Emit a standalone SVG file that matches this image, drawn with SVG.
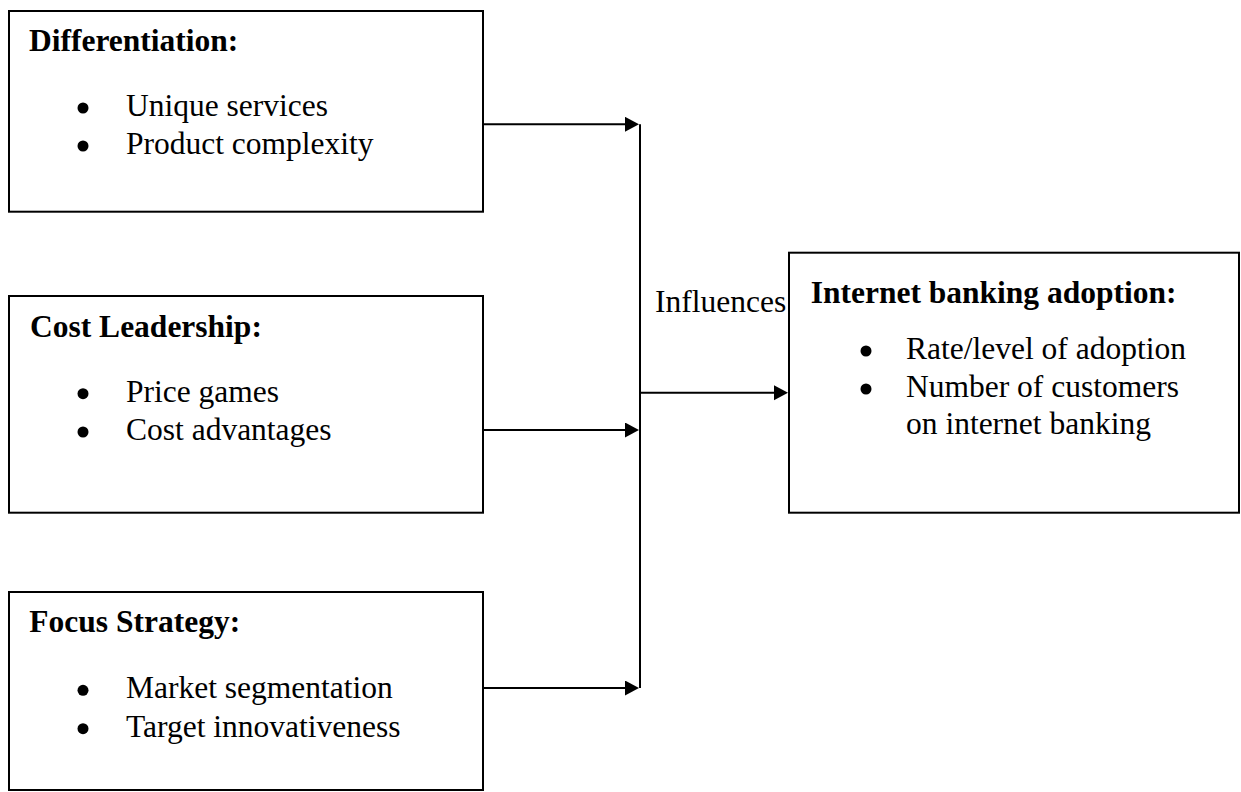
<svg xmlns="http://www.w3.org/2000/svg" width="1241" height="792" viewBox="0 0 1241 792">
<style>
  .box { fill: #ffffff; stroke: #000000; stroke-width: 2; }
  .head { font-family: "Liberation Serif", "Times New Roman", serif; font-size: 31.5px; font-weight: bold; fill: #000000; }
  .item { font-family: "Liberation Serif", "Times New Roman", serif; font-size: 31.5px; fill: #000000; }
  .bullet { fill: #000000; }
  .conn { fill: none; stroke: #000000; stroke-width: 2; }
</style>
<defs>
  <marker id="arrow" markerUnits="userSpaceOnUse" markerWidth="15" markerHeight="16" refX="4" refY="7.5" orient="auto">
    <path d="M0,0 L14,7.5 L0,15 z" fill="#000000"/>
  </marker>
</defs>
<rect width="1241" height="792" fill="#ffffff"/>

<g id="connectors">
  <line class="conn" x1="640" y1="124.3" x2="640" y2="688"/>
  <line class="conn" x1="483" y1="124.3" x2="629" y2="124.3" marker-end="url(#arrow)"/>
  <line class="conn" x1="483" y1="430" x2="629" y2="430" marker-end="url(#arrow)"/>
  <line class="conn" x1="483" y1="688" x2="629" y2="688" marker-end="url(#arrow)"/>
  <line class="conn" x1="640" y1="392.7" x2="778" y2="392.7" marker-end="url(#arrow)"/>
  <text class="item" x="655" y="311.7">Influences</text>
</g>

<g id="differentiation">
  <rect class="box" x="9" y="11" width="474" height="200.7"/>
  <text class="head" x="29" y="51">Differentiation:</text>
  <circle class="bullet" cx="83" cy="108" r="5.5"/>
  <text class="item" x="126" y="116">Unique services</text>
  <circle class="bullet" cx="83" cy="146" r="5.5"/>
  <text class="item" x="126" y="154">Product complexity</text>
</g>

<g id="cost-leadership">
  <rect class="box" x="9" y="296" width="474" height="216.7"/>
  <text class="head" x="30" y="336.7">Cost Leadership:</text>
  <circle class="bullet" cx="83" cy="393.7" r="5.5"/>
  <text class="item" x="126" y="401.7">Price games</text>
  <circle class="bullet" cx="83" cy="432" r="5.5"/>
  <text class="item" x="126" y="440">Cost advantages</text>
</g>

<g id="focus-strategy">
  <rect class="box" x="9" y="592" width="474" height="198"/>
  <text class="head" x="29.3" y="631.7">Focus Strategy:</text>
  <circle class="bullet" cx="83" cy="690.3" r="5.5"/>
  <text class="item" x="126" y="698.3">Market segmentation</text>
  <circle class="bullet" cx="83" cy="728.7" r="5.5"/>
  <text class="item" x="126" y="736.7">Target innovativeness</text>
</g>

<g id="internet-banking-adoption">
  <rect class="box" x="789" y="252.7" width="450" height="260"/>
  <text class="head" x="810.7" y="303.3">Internet banking adoption:</text>
  <circle class="bullet" cx="866" cy="351" r="5.5"/>
  <text class="item" x="906" y="359">Rate/level of adoption</text>
  <circle class="bullet" cx="866" cy="389" r="5.5"/>
  <text class="item" x="906" y="397">Number of customers</text>
  <text class="item" x="906" y="434">on internet banking</text>
</g>
</svg>
